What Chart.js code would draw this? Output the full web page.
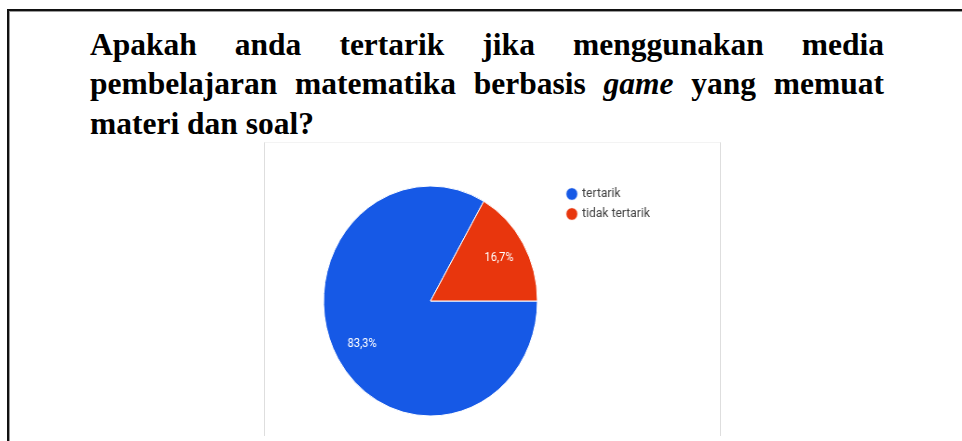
<!DOCTYPE html>
<html>
<head>
<meta charset="utf-8">
<script src="https://cdn.jsdelivr.net/npm/chart.js@4.4.0/dist/chart.umd.min.js"></script>
<style>
  html, body { margin: 0; padding: 0; background: #fff; }
  body { width: 962px; height: 441px; position: relative; overflow: hidden; }
  #frame { position: absolute; left: 7px; top: 9px; width: 1000px; height: 500px;
           border-left: 2px solid #111; border-top: 2px solid #111; }
  #frame2 { position: absolute; left: 9px; top: 11px; width: 1000px; height: 500px;
           border-left: 1px solid #9a9a9a; border-top: 1px solid #9a9a9a; }
  #title { position: absolute; left: 90px; top: 24.6px; width: 794px;
           font-family: "Liberation Serif", "Times New Roman", serif; font-weight: bold;
           font-size: 31.5px; line-height: 39.5px; color: #000; }
  #title .ln { text-align: justify; text-align-last: justify; white-space: nowrap; }
  #title .ln.last { text-align: left; text-align-last: left; }
  #panel { position: absolute; left: 264px; top: 142px; width: 455px; height: 293px;
           border-left: 1px solid #dedede; border-right: 1px solid #dedede; border-top: 1px solid #f3f3f3;
           background: #fff; }
  #chartWrap { position: absolute; left: 264px; top: 142px; transform: scaleX(0.93); transform-origin: 0 0; }
  canvas { display: block; }
</style>
</head>
<body>
<div id="frame"></div>
<div id="frame2"></div>
<div id="title">
  <div class="ln">Apakah anda tertarik jika menggunakan media</div>
  <div class="ln">pembelajaran matematika berbasis <i>game</i> yang memuat</div>
  <div class="ln last">materi dan soal?</div>
</div>
<div id="panel"></div>
<div id="chartWrap"><canvas id="c" width="425" height="293"></canvas></div>
<script>
const categories = ['tertarik', 'tidak tertarik'];
const values = [83.3, 16.7];
const colors = ['#1659e6', '#e8360d'];

const sliceLabels = {
  id: 'sliceLabels',
  afterDatasetsDraw(chart) {
    const ctx = chart.ctx;
    const meta = chart.getDatasetMeta(0);
    ctx.save();
    ctx.font = '12px Roboto';
    ctx.fillStyle = '#ffffff';
    ctx.textAlign = 'center';
    ctx.textBaseline = 'middle';
    meta.data.forEach((arc, i) => {
      const p = arc.getProps(['x', 'y', 'startAngle', 'endAngle', 'outerRadius'], true);
      const mid = (p.startAngle + p.endAngle) / 2;
      const r = p.outerRadius * 0.74;
      const txt = values[i].toFixed(1).replace('.', ',') + '%';
      ctx.fillText(txt, p.x + Math.cos(mid) * r, p.y + Math.sin(mid) * r);
    });
    ctx.restore();
  }
};

new Chart(document.getElementById('c'), {
  type: 'pie',
  data: {
    labels: categories,
    datasets: [{
      data: values,
      backgroundColor: colors,
      borderColor: '#ffffff',
      borderWidth: 1,
      radius: 115
    }]
  },
  options: {
    responsive: false,
    animation: false,
    rotation: 90,
    layout: { padding: { top: 38.5, bottom: 13.5, left: 38.5, right: 0 } },
    plugins: {
      tooltip: { enabled: false },
      legend: {
        position: 'right',
        align: 'start',
        labels: {
          usePointStyle: true,
          pointStyle: 'circle',
          boxWidth: 9,
          boxHeight: 9,
          padding: 7,
          color: '#444444',
          font: { family: 'Roboto', size: 13 }
        }
      }
    }
  },
  plugins: [sliceLabels]
});
</script>
</body>
</html>
